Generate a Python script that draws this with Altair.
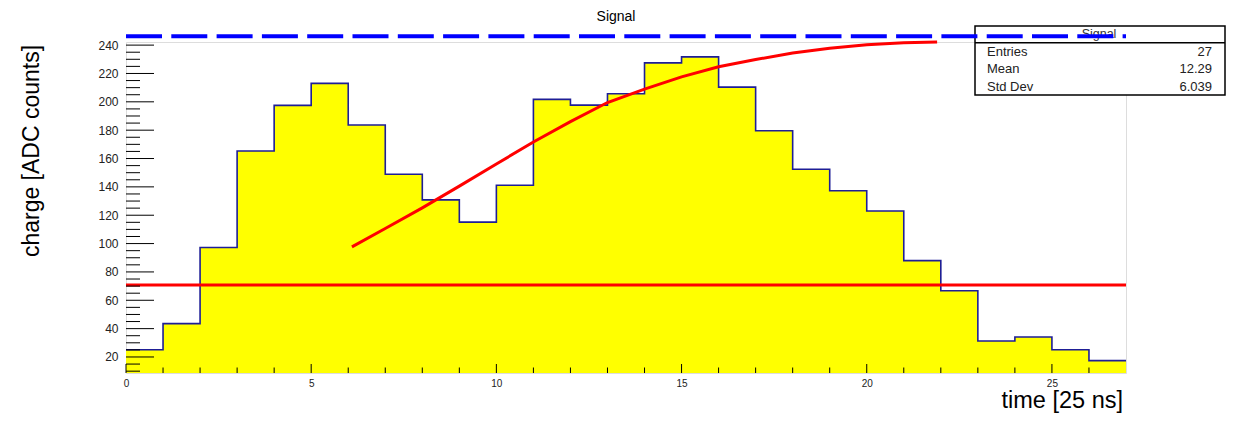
import altair as alt
import pandas as pd

# ---- data ----
BIN_EDGES = list(range(28))  # 27 bins, 0..27
COUNTS = [25.1, 43.5, 97.2, 165.3, 197.5, 213.0, 183.6, 148.9, 130.8, 115.1,
          141.1, 201.7, 197.7, 205.7, 227.5, 231.7, 210.4, 179.6, 152.4, 137.3,
          123.0, 88.0, 66.7, 31.3, 34.1, 25.1, 17.4]
FIT_X = [6.1, 7, 8, 9, 10, 11, 12, 13, 14, 15, 16, 17, 18, 19, 20, 21, 21.9]
FIT_Y = [97.7, 110.6, 125.2, 140.5, 156.1, 171.7, 186.0, 199.5, 209.0, 217.6,
         224.7, 229.8, 234.5, 237.8, 240.2, 241.6, 242.2]
FLAT_X = [0, 27]
FLAT_Y = [70.8, 70.8]
DASH_X = [0, 27]
DASH_Y = [246.3, 246.3]

X_MAJOR = [0, 5, 10, 15, 20, 25]
X_MINOR = [1, 2, 3, 4, 6, 7, 8, 9, 11, 12, 13, 14, 16, 17, 18, 19, 21, 22, 23, 24, 26]
Y_MAJOR = [20, 40, 60, 80, 100, 120, 140, 160, 180, 200, 220, 240]
Y_MINOR = [10, 15, 25, 30, 35, 45, 50, 55, 65, 70, 75, 85, 90, 95, 105, 110, 115,
           125, 130, 135, 145, 150, 155, 165, 170, 175, 185, 190, 195, 205, 210,
           215, 225, 230, 235]
X_DOMAIN = [0, 27]
Y_DOMAIN = [8.7, 242.2]

TITLE = "Signal"
X_TITLE = "time [25 ns]"
Y_TITLE = "charge [ADC counts]"
STAT_NAMES = ["Entries", "Mean", "Std Dev"]
STAT_VALUES = ["27", "12.29", "6.039"]

W, H = 1000, 331
FONT = "Liberation Sans"

xscale = alt.Scale(domain=X_DOMAIN, nice=False, zero=False)
yscale = alt.Scale(domain=Y_DOMAIN, nice=False, zero=False)
xaxis = alt.Axis(values=X_MAJOR, format="d", labelFontSize=10, labelPadding=5,
                 ticks=False, tickSize=0, domain=False, grid=False, title=None,
                 labelFont=FONT, labelColor="#222222", labelFlush=False,
                 labelOverlap=False)
yaxis = alt.Axis(values=Y_MAJOR, format="d", labelFontSize=12, labelPadding=8,
                 ticks=False, tickSize=0, domain=False, grid=False, title=None,
                 labelFont=FONT, labelColor="#222222", labelFlush=False,
                 labelOverlap=False)


def X(f="x"):
    return alt.X(f"{f}:Q", scale=xscale, axis=xaxis)


def Y(f="y"):
    return alt.Y(f"{f}:Q", scale=yscale, axis=yaxis)


hist = pd.DataFrame({"x": BIN_EDGES, "y": COUNTS + [COUNTS[-1]]})
fit = pd.DataFrame({"x": FIT_X, "y": FIT_Y})
flat = pd.DataFrame({"x": FLAT_X, "y": FLAT_Y})
dash = pd.DataFrame({"x": DASH_X, "y": DASH_Y})
one = pd.DataFrame({"a": [0]})

area = alt.Chart(hist).mark_area(color="#ffff00", interpolate="step-after").encode(
    x=X(), y=Y(), y2=alt.datum(Y_DOMAIN[0]))
outline = alt.Chart(hist).mark_line(color="#1e1e96", strokeWidth=1.6,
                                    interpolate="step-after").encode(x=X(), y=Y())
flat_line = alt.Chart(flat).mark_line(color="#ff0000", strokeWidth=3).encode(x=X(), y=Y())
fit_line = alt.Chart(fit).mark_line(color="#ff0000", strokeWidth=3).encode(x=X(), y=Y())

ymaj = alt.Chart(pd.DataFrame({"y": Y_MAJOR})).mark_rule(color="black", strokeWidth=1).encode(
    y=Y(), x=alt.value(0), x2=alt.value(28))
ymin = alt.Chart(pd.DataFrame({"y": Y_MINOR})).mark_rule(color="black", strokeWidth=1).encode(
    y=Y(), x=alt.value(0), x2=alt.value(14))
xmaj = alt.Chart(pd.DataFrame({"x": X_MAJOR})).mark_rule(color="black", strokeWidth=1).encode(
    x=X(), y=alt.value(H), y2=alt.value(H - 9))
xmin = alt.Chart(pd.DataFrame({"x": X_MINOR})).mark_rule(color="black", strokeWidth=1).encode(
    x=X(), y=alt.value(H), y2=alt.value(H - 5.5))

# stats box (positions relative to plot origin at page 126,42)
box = alt.Chart(one).mark_rect(fill="white", stroke="black", strokeWidth=1.5).encode(
    x=alt.value(849), x2=alt.value(1099), y=alt.value(-16), y2=alt.value(53))
box_sep = alt.Chart(one).mark_rule(color="black", strokeWidth=1.5).encode(
    x=alt.value(849), x2=alt.value(1099), y=alt.value(0.7))
box_title = alt.Chart(one).mark_text(text=TITLE, font=FONT, fontSize=12.5, color="#333333",
                                     baseline="middle", align="center").encode(
    x=alt.value(973), y=alt.value(-8.5))
stat_layers = []
row_y = [14.2, 31.4, 48.6]
for name, val, yy in zip(STAT_NAMES, STAT_VALUES, row_y):
    stat_layers.append(alt.Chart(one).mark_text(text=name, font=FONT, fontSize=13,
                                                color="#222222", align="left",
                                                baseline="alphabetic").encode(
        x=alt.value(861), y=alt.value(yy)))
    stat_layers.append(alt.Chart(one).mark_text(text=val, font=FONT, fontSize=13,
                                                color="#222222", align="right",
                                                baseline="alphabetic").encode(
        x=alt.value(1086), y=alt.value(yy)))

dash_line = alt.Chart(dash).mark_line(color="#0000ff", strokeWidth=4,
                                      strokeDash=[36, 9.3]).encode(x=X(), y=Y())

title = alt.Chart(one).mark_text(text=TITLE, font=FONT, fontSize=14, color="black",
                                 align="center", baseline="middle").encode(
    x=alt.value(490), y=alt.value(-25))
xtitle = alt.Chart(one).mark_text(text=X_TITLE, font=FONT, fontSize=23.5, color="black",
                                  align="right", baseline="alphabetic").encode(
    x=alt.value(997), y=alt.value(366))
ytitle = alt.Chart(one).mark_text(text=Y_TITLE, font=FONT, fontSize=23, color="black",
                                  align="center", baseline="middle", angle=270).encode(
    x=alt.value(-94), y=alt.value(109))

chart = alt.layer(
    area, outline, flat_line, fit_line, ymaj, ymin, xmaj, xmin,
    box, box_sep, box_title, *stat_layers, dash_line, title, xtitle, ytitle
).properties(
    width=W, height=H,
    padding={"left": 118, "top": 34, "right": 104, "bottom": 41},
    autosize=alt.AutoSizeParams(type="none"),
).configure_view(stroke="black", strokeWidth=1.5).configure(background="white")

chart.save("out.html", embed_options={"renderer": "svg", "actions": False})
